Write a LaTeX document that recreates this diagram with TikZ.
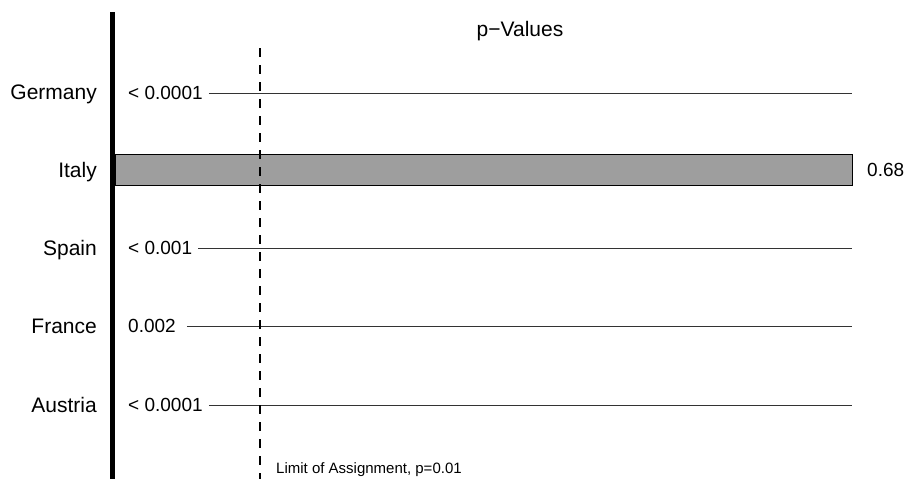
\documentclass[tikz,border=0pt]{standalone}
\usepackage{fontspec}
\setmainfont{Liberation Sans}
\begin{document}
\begin{tikzpicture}[x=1pt,y=-1pt,
  big/.style={font=\fontsize{21}{24}\selectfont, inner sep=0pt},
  lab/.style={font=\fontsize{19}{22}\selectfont, inner sep=0pt},
  small/.style={font=\fontsize{15}{17}\selectfont, inner sep=0pt},
  pline/.style={draw=black!80, line width=1pt},
  country/.style={big, anchor=base east},
  pval/.style={lab, anchor=base west}]
\useasboundingbox (0,0) rectangle (910,479);
% title
\node[big, anchor=base] (title) at (520,36) {p−Values};
% bar Italy
\draw[fill=black!38, draw=black, line width=1pt] (115,154) rectangle (852,185);
\node[pval] (vit) at (867,176.5) {0.68};
% p-value labels
\node[pval] (vde) at (128,99.5) {< 0.0001};
\node[pval] (ves) at (128,254.5) {< 0.001};
\node[pval] (vfr) at (128,332.5) {0.002};
\node[pval] (vat) at (128,411.5) {< 0.0001};
\coordinate (ede) at (852,93);
\coordinate (ees) at (852,248);
\coordinate (efr) at (852,326);
\coordinate (eat) at (852,405);
\draw[pline] (vde.east |- ede) ++(6,0) -- (ede);
\draw[pline] (ves.east |- ees) ++(6,0) -- (ees);
\draw[pline] (vfr.east |- efr) ++(11,0) -- (efr);
\draw[pline] (vat.east |- eat) ++(6,0) -- (eat);
% dashed limit
\coordinate (dtop) at (260,48);
\coordinate (dbot) at (260,479);
\draw[line width=1.2pt, dash pattern=on 9pt off 8pt] (dtop) -- (dbot);
\node[small, anchor=base west] (limit) at (276,473) {Limit of Assignment, p=0.01};
% axis
\coordinate (atop) at (112.5,12);
\coordinate (abot) at (112.5,479);
\draw[line width=5pt] (atop) -- (abot);
% countries
\node[country] (de) at (97,99) {Germany};
\node[country] (it) at (97,177) {Italy};
\node[country] (es) at (97,255) {Spain};
\node[country] (fr) at (97,333) {France};
\node[country] (at) at (97,412) {Austria};
\end{tikzpicture}
\end{document}
